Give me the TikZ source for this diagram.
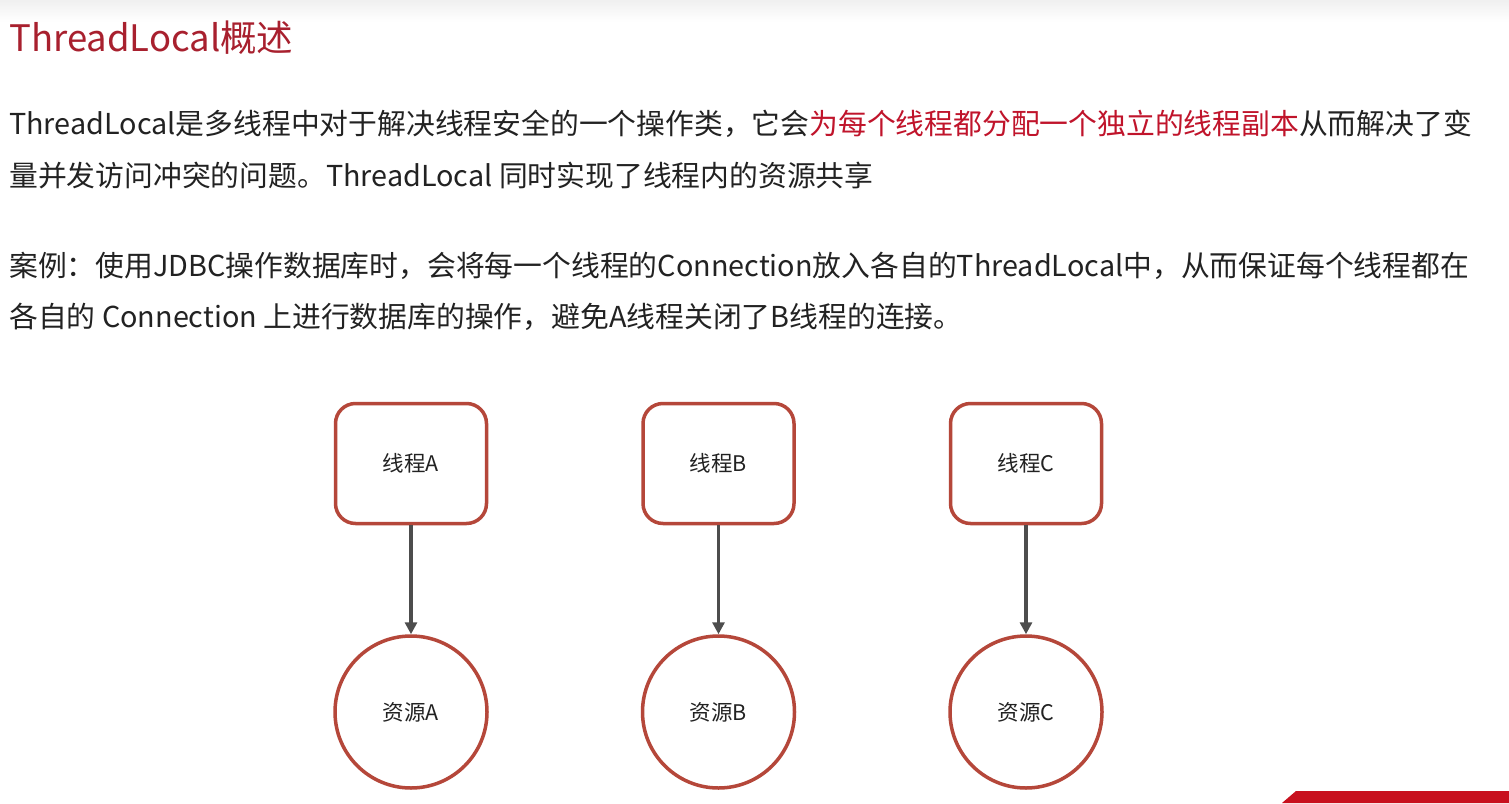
\documentclass[tikz,border=0pt]{standalone}
\usepackage{fontspec}
\setmainfont{Noto Sans CJK SC}
\usepackage{xcolor}
\definecolor{cTitle}{HTML}{A8202E}
\definecolor{cRed}{HTML}{C0142B}
\definecolor{cText}{HTML}{222222}
\definecolor{cBorder}{HTML}{B5473A}
\definecolor{cArrow}{HTML}{4D4D4D}
\definecolor{cBanner}{HTML}{C8101E}
\usetikzlibrary{positioning,arrows.meta}
\tikzset{
  title-text/.style={anchor=base west,inner sep=0pt,text=cTitle,
    font=\fontsize{36.5}{42}\selectfont},
  body-text/.style={anchor=base west,inner sep=0pt,text=cText,
    font=\fontsize{28.8}{34}\selectfont},
  node-thread/.style={draw=cBorder,line width=3.5pt,rounded corners=20pt,
    minimum width=151pt,minimum height=120pt,align=center,
    font=\fontsize{21.5}{24}\selectfont,text=cText},
  node-res/.style={draw=cBorder,line width=3.5pt,circle,minimum size=152pt,
    align=center,font=\fontsize{21.5}{24}\selectfont,text=cText},
  arrow/.style={-{Triangle[length=12pt,width=12pt]},line width=3.5pt,draw=cArrow},
}

\begin{document}
\begin{tikzpicture}[x=1pt,y=-1pt,node distance=153pt]
  \useasboundingbox[fill=white] (0,0) rectangle (1509,803);
  \shade[top color=black!6,bottom color=white] (0,0) rectangle (1509,22);

  % 标题与说明文字
  \node[title-text] (title) at (9,51) {ThreadLocal概述};
  \node[body-text] (l1) at (9,134)
    {ThreadLocal是多线程中对于解决线程安全的一个操作类，它会\textcolor{cRed}{为每个线程都分配一个独立的线程副本}从而解决了变};
  \node[body-text] (l2) at (9,186)
    {量并发访问冲突的问题。ThreadLocal 同时实现了线程内的资源共享};
  \node[body-text] (l3) at (9,276)
    {案例：使用JDBC操作数据库时，会将每一个线程的Connection放入各自的ThreadLocal中，从而保证每个线程都在};
  \node[body-text] (l4) at (9,327)
    {各自的 Connection 上进行数据库的操作，避免A线程关闭了B线程的连接。};

  % 线程与资源
  \node[node-thread] (ta) at (411,463.5) {线程A};
  \node[node-thread,right=of ta] (tb) {线程B};
  \node[node-thread,right=of tb] (tc) {线程C};
  \node[node-res,below=109pt of ta] (ra) {资源A};
  \node[node-res,below=109pt of tb] (rb) {资源B};
  \node[node-res,below=109pt of tc] (rc) {资源C};

  \draw[arrow] (ta) -- (ra);
  \draw[arrow] (tb) -- (rb);
  \draw[arrow] (tc) -- (rc);

  % 右下角红色条
  \fill[cBanner] (1282,803) -- (1296,791) -- (1509,791) -- (1509,803) -- cycle;
\end{tikzpicture}
\end{document}
